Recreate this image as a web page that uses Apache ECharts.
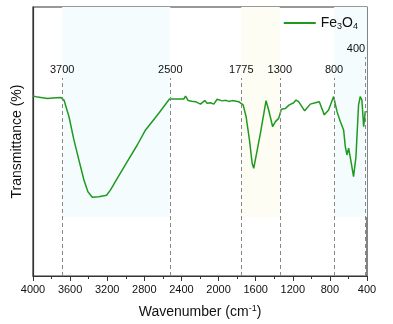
<!DOCTYPE html>
<html>
<head>
  <meta charset="UTF-8">
  <title>FTIR Fe3O4</title>
  <script src="https://cdn.jsdelivr.net/npm/echarts@6/dist/echarts.min.js"></script>
  <style>
    html, body { margin: 0; padding: 0; background: #fff; }
    #chart { width: 393px; height: 324px; }
  </style>
</head>
<body>
  <div id="chart"></div>
  <script>
    // spectrum
    var wavenumber = [4000, 3950, 3845, 3750, 3702, 3666, 3612, 3559, 3505, 3451, 3408, 3361, 3290, 3207, 3164, 3092, 2984, 2876, 2787, 2644, 2529,
      2450, 2375, 2356, 2327, 2290, 2249, 2195, 2149, 2123, 2087, 2052, 2015, 1961, 1920, 1890, 1854, 1810, 1783, 1735, 1703, 1667, 1638, 1621,
      1549, 1488, 1460, 1417, 1387, 1352, 1323, 1280, 1237, 1190, 1165, 1137, 1072, 1011, 957, 914, 860, 814, 760,
      723, 688, 652, 634, 616, 598, 569, 545, 519, 491, 473, 455, 436, 419, 400];
    var transmittance = [66.9, 66.5, 66.0, 66.3, 66.4, 65.4, 59.2, 50.6, 43.1, 35.7, 31.3, 29.3, 29.5, 30.0, 32.0, 36.3, 42.5, 48.7, 54.3, 60.5, 65.8,
      65.8, 65.8, 66.9, 65.2, 65.0, 64.8, 63.9, 65.2, 64.2, 64.4, 63.9, 65.7, 65.1, 65.3, 64.9, 65.2, 65.0, 64.8, 63.6, 59.2, 50.6, 41.9, 40.0,
      53.0, 65.2, 61.7, 55.5, 57.4, 58.6, 62.0, 62.3, 63.6, 64.4, 65.4, 64.8, 61.4, 63.9, 64.4, 64.8, 59.9, 61.7, 66.7,
      61.1, 57.4, 54.3, 48.1, 45.0, 47.5, 41.9, 36.9, 44.3, 63.6, 66.7, 65.4, 55.5, 61.1, 61.1];

    var peakPos = [3685, 2520, 1755, 1340, 755, 420];
    var peakLabels = ['3700', '2500', '1775', '1300', '800', '400'];
    var peakTop = [73.6, 73.6, 73.6, 73.6, 73.6, 81.4];

    var bandFrom = [3685, 1755, 755];
    var bandTo = [2520, 1340, 400];
    var bandColors = ['#f4fcfe', '#fdfdf4', '#f4fcfe'];

    var green = '#1f9a1f';
    var dark = '#333';
    var font = 'Liberation Sans, Arial, sans-serif';

    var chart = echarts.init(document.getElementById('chart'));

    var lines = peakPos.map(function (p, i) {
      var lab = { formatter: peakLabels[i] };
      if (i === peakPos.length - 1) lab.align = 'right';
      return [{ coord: [p, 0] }, { coord: [p, peakTop[i]], label: lab }];
    });
    var areas = bandFrom.map(function (f, i) {
      return [{ xAxis: f, yAxis: 100, itemStyle: { color: bandColors[i], opacity: 1 } }, { xAxis: bandTo[i], yAxis: 21.9 }];
    });

    chart.setOption({
      animation: false,
      textStyle: { fontFamily: font },
      grid: { left: 33, right: 26, top: 7, bottom: 48, show: true, borderColor: dark, borderWidth: 1.2 },
      legend: {
        right: 30, top: 11, itemWidth: 32, itemHeight: 2, itemGap: 5,
        icon: 'rect',
        data: ['Fe3O4'],
        formatter: function () { return '{n|Fe}{s|3}{n|O}{s|4}'; },
        textStyle: {
          rich: {
            n: { fontSize: 14, color: '#111', fontFamily: font },
            s: { fontSize: 9, color: '#111', fontFamily: font, padding: [7, 0, 0, 0] }
          }
        }
      },
      xAxis: {
        type: 'value', inverse: true, min: 400, max: 4000, interval: 400,
        name: 'Wavenumber (cm{sup|-1})', nameLocation: 'middle', nameGap: 28,
        nameTextStyle: {
          fontSize: 14, color: '#111', fontFamily: font,
          rich: { sup: { fontSize: 9, color: '#111', fontFamily: font, padding: [0, 0, 7, 0] } }
        },
        axisLine: { show: true, lineStyle: { color: dark, width: 1.2 } },
        axisTick: { show: true, length: 5, lineStyle: { color: dark } },
        minorTick: { show: true, splitNumber: 2, length: 3, lineStyle: { color: dark } },
        axisLabel: { fontSize: 11, color: '#111', margin: 8, formatter: function (v) { return String(v); } },
        splitLine: { show: false }
      },
      yAxis: {
        type: 'value', min: 0, max: 100,
        name: 'Transmittance (%)', nameLocation: 'middle', nameGap: 9,
        nameTextStyle: { fontSize: 14, color: '#111', fontFamily: font },
        axisLine: { show: true, lineStyle: { color: dark, width: 1.2 } },
        axisTick: { show: false },
        axisLabel: { show: false },
        splitLine: { show: false }
      },
      series: [{
        name: 'Fe3O4', type: 'line', symbol: 'none',
        data: wavenumber.map(function (w, i) { return [w, transmittance[i]]; }),
        lineStyle: { color: green, width: 1.5 },
        itemStyle: { color: green },
        markArea: { silent: true, data: areas },
        markLine: {
          silent: true, symbol: 'none',
          lineStyle: { color: '#888', type: [4, 3], width: 1 },
          label: { position: 'end', distance: 3, fontSize: 11, color: '#111' },
          data: lines
        }
      }]
    });
  </script>
</body>
</html>
